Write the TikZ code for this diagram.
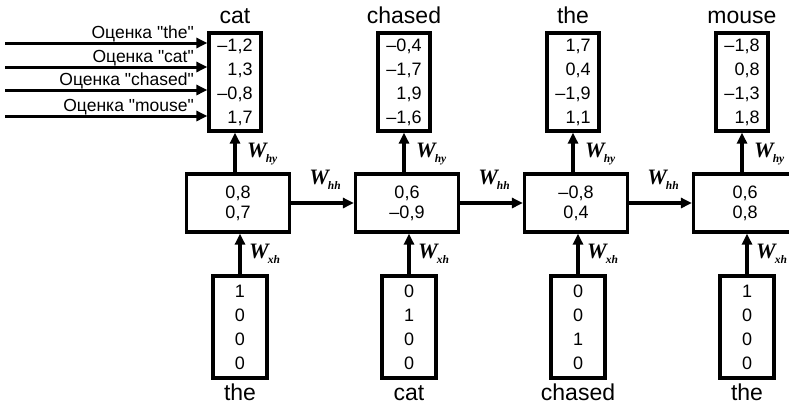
\documentclass[tikz,border=0pt]{standalone}
\usepackage{fontspec}
\setmainfont{Liberation Sans}
\newfontfamily\scorefont{Liberation Sans}[Ligatures=TeXOff]
\newfontfamily\wfont{Liberation Serif}
\usetikzlibrary{arrows.meta}
\newcommand{\Wlab}[1]{{\wfont\bfseries\itshape\fontsize{22}{22}\selectfont W\kern-1pt\raisebox{-5pt}{\fontsize{11.5}{11.5}\selectfont #1}}}
\begin{document}
\begin{tikzpicture}[x=1pt,y=-1pt,
  outbox/.style={draw, rectangle, line width=3.2pt, inner sep=0pt, minimum width=52pt, minimum height=98pt, align=right, font=\fontsize{18}{24}\selectfont},
  hidbox/.style={draw, rectangle, line width=3.2pt, inner sep=0pt, minimum width=103pt, minimum height=58pt, align=center, font=\fontsize{18}{20}\selectfont},
  inbox/.style={draw, rectangle, line width=3.2pt, inner sep=0pt, minimum width=54pt, minimum height=102pt, align=center, font=\fontsize{18}{24}\selectfont},
  arr/.style={-{Triangle[length=11pt,width=10pt]}, line width=4.2pt},
  word/.style={anchor=base, font=\fontsize{23}{23}\selectfont, inner sep=0pt},
  score/.style={anchor=base east, font=\scorefont\fontsize{17.5}{17.5}\selectfont, inner sep=0pt},
  wl/.style={inner sep=0pt}]
\clip (0,0) rectangle (789,408);
\fill[white] (0,0) rectangle (789,408);
% output boxes
\node[outbox] (o1) at (235,82) {–1,2\\1,3\\–0,8\\1,7};
\node[outbox] (o2) at (404,82) {–0,4\\–1,7\\1,9\\–1,6};
\node[outbox] (o3) at (573,82) {1,7\\0,4\\–1,9\\1,1};
\node[outbox] (o4) at (742,82) {–1,8\\0,8\\–1,3\\1,8};
% hidden boxes
\node[hidbox] (h1) at (238,203) {0,8\\0,7};
\node[hidbox] (h2) at (407,203) {0,6\\–0,9};
\node[hidbox] (h3) at (576,203) {–0,8\\0,4};
\node[hidbox] (h4) at (745,203) {0,6\\0,8};
% input boxes
\node[inbox] (x1) at (240,327) {1\\0\\0\\0};
\node[inbox] (x2) at (409,327) {0\\1\\0\\0};
\node[inbox] (x3) at (578,327) {0\\0\\1\\0};
\node[inbox] (x4) at (747,327) {1\\0\\0\\0};
% titles
\node[word] (t1) at (235,23) {cat};
\node[word] (t2) at (404,23) {chased};
\node[word] (t3) at (573,23) {the};
\node[word] (t4) at (742,23) {mouse};
\node[word] (b1) at (240,400) {the};
\node[word] (b2) at (409,400) {cat};
\node[word] (b3) at (578,400) {chased};
\node[word] (b4) at (747,400) {the};
% vertical arrows
\foreach \i in {1,2,3,4}{
  \draw[arr] (o\i.south |- h\i.north) -- (o\i.south);
  \draw[arr] (x\i.north) -- (x\i.north |- h\i.south);
}
% horizontal arrows
\draw[arr] (h1.east) -- (h2.west);
\draw[arr] (h2.east) -- (h3.west);
\draw[arr] (h3.east) -- (h4.west);
% W labels
\foreach \i/\cx in {1/238,2/407,3/576,4/745}{
  \node[wl, anchor=west] (why\i) at (\cx+9,154) {\Wlab{hy}};
  \node[wl, anchor=west] (wxh\i) at (\cx+11,254) {\Wlab{xh}};
}
\node[wl] (whh1) at (325,180) {\Wlab{hh}};
\node[wl] (whh2) at (494,180) {\Wlab{hh}};
\node[wl] (whh3) at (663,180) {\Wlab{hh}};
% score arrows
\coordinate (s1) at (5,43);
\coordinate (s2) at (5,67);
\coordinate (s3) at (5,90);
\coordinate (s4) at (5,116);
\foreach \i in {1,2,3,4}{
  \draw[arr, line width=3pt] (s\i) -- (s\i -| o1.west);
}
\node[score] (l1) at (194,38) {Оценка "the"};
\node[score] (l2) at (194,62) {Оценка "cat"};
\node[score] (l3) at (194,85) {Оценка "chased"};
\node[score] (l4) at (194,111) {Оценка "mouse"};
\end{tikzpicture}
\end{document}
